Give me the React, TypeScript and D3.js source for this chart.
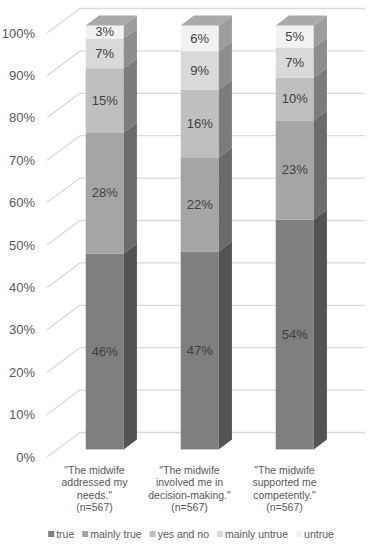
import React, { useEffect, useRef } from 'react';
import * as d3 from 'd3';

const categories = [
  ['"The midwife', 'addressed my', 'needs."', '(n=567)'],
  ['"The midwife', 'involved me in', 'decision-making."', '(n=567)'],
  ['"The midwife', 'supported me', 'competently."', '(n=567)'],
];
const seriesNames = ['true', 'mainly true', 'yes and no', 'mainly untrue', 'untrue'];
const seriesColors = ['#7f7f7f', '#a5a5a5', '#bfbfbf', '#d9d9d9', '#f2f2f2'];
// one array per series, one value per category (share of answers)
const trueVals = [0.462, 0.467, 0.542];
const mainlyTrueVals = [0.286, 0.222, 0.234];
const yesNoVals = [0.151, 0.16, 0.101];
const mainlyUntrueVals = [0.07, 0.09, 0.071];
const untrueVals = [0.031, 0.061, 0.052];
const labelVals = [
  [46, 28, 15, 7, 3],
  [47, 22, 16, 9, 6],
  [54, 23, 10, 7, 5],
];
const yTicks = [0, 0.1, 0.2, 0.3, 0.4, 0.5, 0.6, 0.7, 0.8, 0.9, 1];

const App = () => {
  const ref = useRef<SVGSVGElement>(null);

  useEffect(() => {
    const svg = d3.select(ref.current);
    svg.selectAll('*').remove();

    const series = [trueVals, mainlyTrueVals, yesNoVals, mainlyUntrueVals, untrueVals];
    const font = 'Liberation Sans, Arial, sans-serif';

    // depth of the whole floor, and where the bars sit in it
    const depthX = 33;
    const depthY = -24.5;
    const z0 = 0.31;
    const z1 = 0.71;

    const x = d3.scaleBand<number>().domain([0, 1, 2]).range([47, 332]).paddingInner(0.6).paddingOuter(0.3);
    const y = d3.scaleLinear().domain([0, 1]).range([457, 33]);

    const grid = svg.append('g');
    yTicks.forEach((t) => {
      const yf = y(t);
      grid.append('line')
        .attr('x1', 47).attr('y1', yf)
        .attr('x2', 47 + depthX).attr('y2', yf + depthY)
        .attr('stroke', '#d9d9d9').attr('stroke-width', 1.3);
      grid.append('line')
        .attr('x1', 47 + depthX).attr('y1', yf + depthY)
        .attr('x2', 332 + depthX).attr('y2', yf + depthY)
        .attr('stroke', '#d9d9d9').attr('stroke-width', 1.3);
      svg.append('text')
        .attr('x', 35).attr('y', yf + 4.5)
        .attr('text-anchor', 'end')
        .style('font-family', font).style('font-size', '13px')
        .attr('fill', '#595959')
        .text(d3.format('.0%')(t));
    });

    const bw = x.bandwidth();
    const bdx = (z1 - z0) * depthX;
    const bdy = (z1 - z0) * depthY;

    categories.forEach((cat, ci) => {
      const stack = d3.cumsum(series.map((s) => s[ci]));
      const xl = (x(ci) as number) + z0 * depthX;
      const xr = xl + bw;
      const g = svg.append('g');
      series.forEach((s, si) => {
        const v0 = si === 0 ? 0 : stack[si - 1];
        const v1 = stack[si];
        const yb = y(v0) + z0 * depthY;
        const yt = y(v1) + z0 * depthY;
        const c = d3.color(seriesColors[si]) as d3.RGBColor;
        const side = d3.rgb(c.r * 0.65, c.g * 0.65, c.b * 0.65).formatHex();
        const top = d3.rgb(c.r * 0.7, c.g * 0.7, c.b * 0.7).formatHex();

        g.append('rect')
          .attr('x', xl).attr('y', yt)
          .attr('width', bw).attr('height', yb - yt)
          .attr('fill', seriesColors[si]);
        g.append('polygon')
          .attr('points', [[xr, yt], [xr + bdx, yt + bdy], [xr + bdx, yb + bdy], [xr, yb]].map((p) => p.join(',')).join(' '))
          .attr('fill', side);
        if (si === series.length - 1) {
          g.append('polygon')
            .attr('points', [[xl, yt], [xl + bdx, yt + bdy], [xr + bdx, yt + bdy], [xr, yt]].map((p) => p.join(',')).join(' '))
            .attr('fill', top);
        }
        g.append('text')
          .attr('x', (xl + xr) / 2).attr('y', (yt + yb) / 2 + 4.5)
          .attr('text-anchor', 'middle')
          .style('font-family', font).style('font-size', '13px')
          .attr('fill', '#404040')
          .text(labelVals[ci][si] + '%');
      });

      const t = svg.append('text')
        .attr('text-anchor', 'middle')
        .style('font-family', font).style('font-size', '10.5px')
        .attr('fill', '#595959');
      cat.forEach((line, li) => {
        t.append('tspan')
          .attr('x', (x(ci) as number) + bw / 2)
          .attr('y', 474 + li * 12.3)
          .text(line);
      });
    });

    // legend
    const legend = svg.append('g');
    let cx = 0;
    const gap = 8;
    seriesNames.forEach((name, i) => {
      legend.append('rect')
        .attr('x', cx).attr('y', 531)
        .attr('width', 6).attr('height', 6)
        .attr('fill', seriesColors[i]);
      const txt = legend.append('text')
        .attr('x', cx + 8).attr('y', 537.5)
        .style('font-family', font).style('font-size', '10.5px')
        .attr('fill', '#595959')
        .text(name);
      const w = (txt.node() as SVGTextElement).getComputedTextLength();
      cx += 8 + w + gap;
    });
    const total = cx - gap;
    legend.attr('transform', `translate(${191 - total / 2},0)`);
  }, []);

  return (
    <svg ref={ref} width={369} height={545} style={{ position: 'absolute', left: 0, top: 0, background: '#fff' }} />
  );
};

export default App;
